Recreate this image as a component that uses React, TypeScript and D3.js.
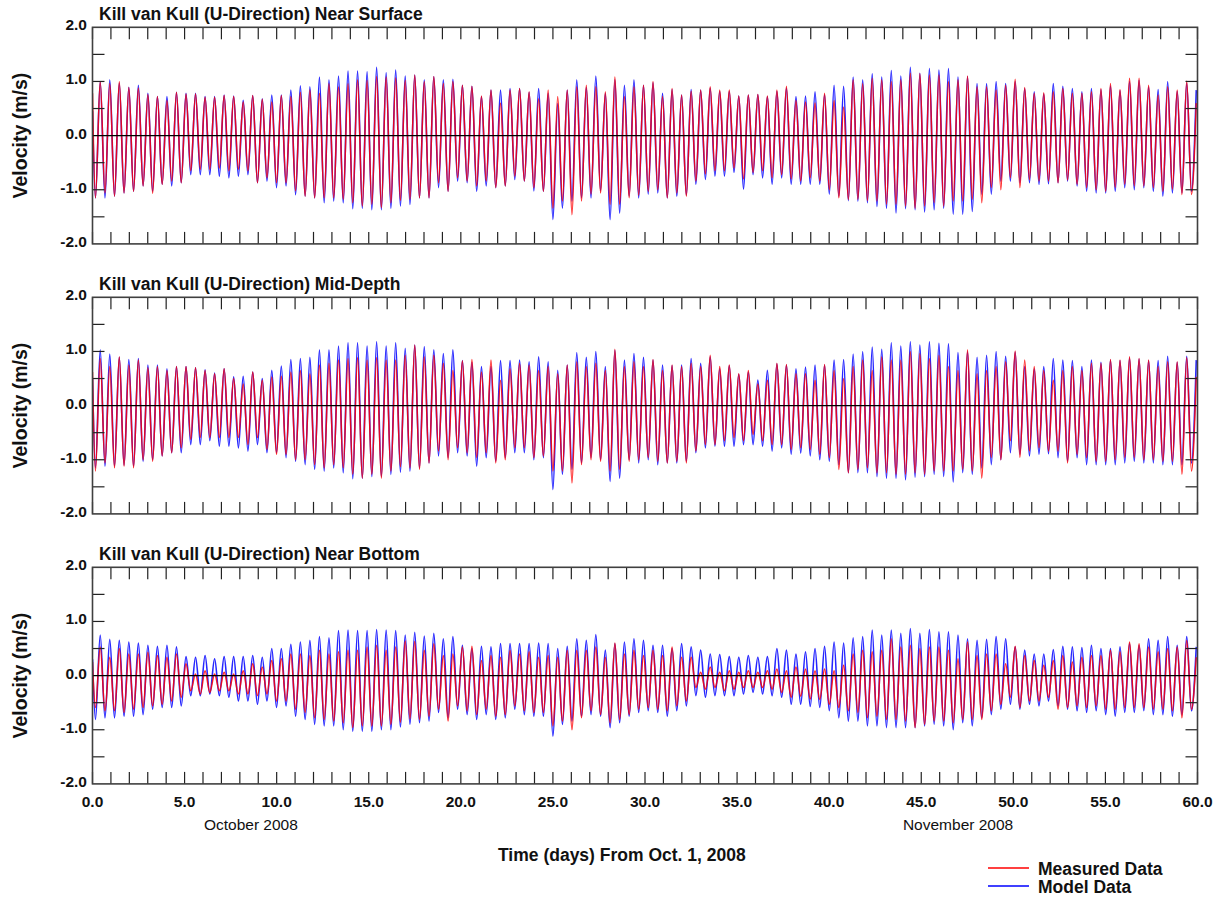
import React from "react";
import * as d3 from "d3";

// Tidal timing of the read extremes (days from Oct. 1, 2008)
const PERIOD = 0.5175;
const FIRST_TROUGH = 0.16;
const FIRST_PEAK = 0.42;

const X_TICK_LABELS = [0, 5, 10, 15, 20, 25, 30, 35, 40, 45, 50, 55, 60];
const Y_TICK_LABELS = [2, 1, 0, -1, -2];
const Y_MINOR = [1.5, 1, 0.5, -0.5, -1, -1.5];
const MONTHS = [{ label: "October 2008", day: 8.6 }, { label: "November 2008", day: 47.0 }];
const TITLES = [
  "Kill van Kull (U-Direction) Near Surface",
  "Kill van Kull (U-Direction) Mid-Depth",
  "Kill van Kull (U-Direction) Near Bottom",
];

// ---- Near Surface ----
const surfaceMeasuredStart = 0.78;
const surfaceModelStart = 0.45;
const surfaceMeasuredPeaks = [1.00,0.96,1.00,0.89,0.88,0.76,0.72,0.65,0.80,0.77,
 0.77,0.71,0.71,0.74,0.72,0.62,0.74,0.67,0.62,0.74,
 0.72,0.80,0.84,0.78,0.96,0.90,0.96,1.03,1.02,1.09,
 1.08,1.07,1.02,1.12,1.00,1.09,0.96,1.00,0.93,0.91,
 0.73,0.84,0.60,0.84,0.87,0.81,0.68,0.84,0.72,0.84,
 0.90,0.93,0.90,0.81,1.08,0.72,0.90,0.93,1.00,0.72,
 0.87,0.75,0.82,0.84,0.90,0.84,0.84,0.73,0.75,0.76,
 0.73,0.84,0.91,0.65,0.62,0.60,0.78,0.65,0.53,1.03,
 0.96,1.06,1.03,1.00,1.03,1.15,1.14,1.12,1.12,1.00,
 1.03,1.10,0.90,0.90,0.84,0.93,1.04,0.89,0.78,0.79,
 0.81,0.87,0.78,0.78,0.81,0.87,0.96,0.85,1.06,1.06,
 0.93,0.75,0.90,0.84,1.01,0.60];
const surfaceModelPeaks = [1.00,1.03,0.97,0.89,0.93,0.78,0.72,0.72,0.80,0.78,
 0.78,0.72,0.72,0.75,0.73,0.65,0.74,0.68,0.75,0.75,
 0.84,0.92,0.90,1.08,1.03,1.10,1.19,1.19,1.18,1.26,
 1.16,1.21,1.10,1.12,1.03,1.09,1.03,1.04,0.93,0.91,
 0.72,0.84,0.84,0.87,0.87,0.80,0.87,0.78,0.59,0.84,
 1.03,0.89,1.10,0.78,1.03,0.93,1.03,0.93,0.98,0.78,
 0.85,0.75,0.85,0.84,0.88,0.82,0.82,0.73,0.75,0.76,
 0.72,0.82,0.88,0.72,0.73,0.81,0.76,0.93,0.91,1.08,
 1.03,1.14,1.08,1.20,1.10,1.26,1.15,1.24,1.21,1.24,
 1.08,1.09,0.96,0.96,1.00,0.96,1.00,0.87,0.81,0.77,
 0.96,0.91,0.87,0.81,0.87,0.85,0.92,0.83,1.00,1.02,
 0.90,0.85,1.00,0.82,0.97,0.84];
const surfaceMeasuredTroughs = [-1.15,-1.06,-1.12,-1.06,-1.03,-0.93,-1.07,-0.90,-0.84,-0.87,
 -0.65,-0.62,-0.62,-0.60,-0.65,-0.62,-0.65,-0.87,-0.78,-0.87,
 -0.87,-1.02,-1.12,-1.15,-1.15,-1.15,-1.18,-1.24,-1.30,-1.27,
 -1.33,-1.24,-1.20,-1.18,-1.15,-1.15,-0.87,-1.03,-0.78,-0.84,
 -0.93,-0.84,-0.96,-0.93,-0.75,-0.84,-0.96,-1.03,-1.34,-1.21,
 -1.46,-1.21,-1.08,-1.06,-1.27,-1.27,-1.15,-1.10,-1.03,-1.00,
 -1.15,-1.06,-1.12,-0.84,-0.71,-0.65,-0.65,-0.60,-0.80,-0.68,
 -0.65,-0.78,-0.72,-0.80,-0.84,-0.78,-0.84,-1.00,-1.15,-1.18,
 -1.18,-1.20,-1.21,-1.27,-1.27,-1.30,-1.34,-1.30,-1.24,-1.30,
 -1.21,-1.21,-1.18,-1.24,-0.96,-1.00,-0.78,-0.96,-0.81,-0.84,
 -0.84,-0.87,-0.82,-0.90,-0.96,-1.00,-1.03,-0.96,-0.90,-0.93,
 -0.93,-0.96,-1.03,-0.99,-1.09,-1.09];
const surfaceModelTroughs = [-1.15,-1.15,-1.12,-1.06,-1.03,-0.93,-1.03,-0.90,-0.93,-0.87,
 -0.72,-0.72,-0.72,-0.75,-0.78,-0.75,-0.72,-0.87,-0.84,-0.96,
 -0.93,-1.09,-1.12,-1.15,-1.24,-1.21,-1.24,-1.35,-1.34,-1.37,
 -1.37,-1.34,-1.30,-1.27,-1.15,-1.15,-0.96,-1.03,-0.84,-0.87,
 -1.03,-0.93,-0.96,-0.93,-0.81,-0.84,-1.02,-1.03,-1.55,-1.34,
 -1.21,-1.15,-1.15,-1.02,-1.55,-1.43,-1.12,-1.15,-1.08,-1.06,
 -1.15,-1.12,-1.10,-0.90,-0.81,-0.75,-0.75,-0.68,-0.99,-0.72,
 -0.78,-0.90,-0.78,-0.90,-0.90,-0.90,-0.90,-1.08,-1.12,-1.20,
 -1.21,-1.24,-1.31,-1.34,-1.43,-1.35,-1.37,-1.41,-1.37,-1.34,
 -1.45,-1.45,-1.40,-1.08,-1.08,-0.84,-0.84,-0.87,-0.87,-0.90,
 -0.89,-0.87,-0.84,-0.93,-1.03,-1.06,-1.06,-1.03,-0.96,-1.00,
 -0.96,-1.03,-1.12,-1.06,-1.06,-1.03];

// ---- Mid-Depth ----
const midMeasuredStart = 0.62;
const midModelStart = 0.5;
const midMeasuredPeaks = [0.87,0.72,0.90,0.75,0.84,0.70,0.72,0.65,0.72,0.72,
 0.70,0.65,0.59,0.68,0.50,0.40,0.62,0.47,0.53,0.54,
 0.62,0.65,0.59,0.75,0.78,0.84,0.87,0.89,0.84,0.89,
 0.84,0.84,0.93,1.12,0.90,0.93,0.78,0.65,0.83,0.85,
 0.62,0.84,0.47,0.68,0.78,0.75,0.65,0.72,0.59,0.75,
 0.81,0.72,0.78,0.65,1.04,0.72,0.81,0.72,0.85,0.65,
 0.75,0.72,0.78,0.72,0.93,0.72,0.75,0.59,0.65,0.40,
 0.47,0.78,0.76,0.59,0.59,0.47,0.76,0.65,0.50,0.72,
 0.84,0.65,0.90,0.84,0.84,1.00,0.96,0.87,0.93,0.72,
 0.65,1.03,0.59,0.65,0.72,0.81,1.01,0.84,0.72,0.65,
 0.47,0.65,0.72,0.65,0.78,0.78,0.85,0.84,0.90,0.87,
 0.84,0.72,0.81,0.81,0.89,0.53];
const midModelPeaks = [1.03,0.95,0.89,0.85,0.87,0.75,0.75,0.68,0.72,0.72,
 0.70,0.66,0.60,0.68,0.53,0.54,0.62,0.50,0.65,0.73,
 0.85,0.87,0.89,1.03,1.03,1.10,1.16,1.16,1.10,1.18,
 1.10,1.16,1.06,1.12,1.09,1.03,0.96,1.03,0.83,0.80,
 0.72,0.72,0.83,0.83,0.84,0.81,0.90,0.81,0.65,0.75,
 0.98,0.89,1.00,0.72,1.02,0.84,0.96,0.89,0.84,0.75,
 0.74,0.75,0.87,0.78,0.90,0.68,0.74,0.58,0.62,0.47,
 0.65,0.77,0.75,0.68,0.71,0.75,0.75,0.84,0.85,0.95,
 1.00,1.08,1.04,1.16,1.10,1.18,1.12,1.18,1.15,1.14,
 0.98,1.00,0.89,0.93,1.00,0.91,0.99,0.72,0.68,0.72,
 0.87,0.84,0.83,0.72,0.84,0.80,0.84,0.83,0.88,0.86,
 0.83,0.83,0.91,0.80,0.91,0.84];
const midMeasuredTroughs = [-1.21,-1.06,-1.15,-1.12,-1.15,-1.00,-1.03,-0.93,-0.87,-0.78,
 -0.62,-0.59,-0.59,-0.59,-0.59,-0.59,-0.72,-0.59,-0.81,-0.90,
 -0.90,-1.00,-1.00,-1.09,-1.15,-1.09,-1.15,-1.27,-1.34,-1.27,
 -1.34,-1.21,-1.13,-1.15,-1.18,-1.06,-0.84,-1.00,-0.78,-0.87,
 -0.96,-0.87,-1.06,-1.00,-0.78,-0.78,-0.96,-0.93,-1.21,-1.21,
 -1.43,-1.09,-1.00,-1.03,-1.21,-1.18,-1.03,-1.00,-0.96,-1.03,
 -1.06,-1.03,-1.06,-0.84,-0.72,-0.72,-0.65,-0.59,-0.65,-0.53,
 -0.65,-0.72,-0.72,-0.81,-0.78,-0.81,-0.90,-0.96,-1.18,-1.24,
 -1.18,-1.15,-1.24,-1.24,-1.27,-1.27,-1.24,-1.27,-1.21,-1.21,
 -1.21,-1.18,-1.21,-1.34,-0.96,-1.00,-0.65,-0.96,-0.84,-0.78,
 -0.84,-0.84,-1.06,-0.90,-0.96,-1.03,-1.03,-1.00,-0.96,-0.96,
 -1.00,-1.00,-1.03,-1.03,-1.27,-1.21];
const midModelTroughs = [-1.15,-1.12,-1.12,-1.10,-1.12,-1.03,-1.00,-0.93,-0.87,-0.87,
 -0.72,-0.72,-0.65,-0.75,-0.75,-0.78,-0.84,-0.72,-0.87,-0.87,
 -0.96,-1.03,-1.09,-1.18,-1.21,-1.15,-1.24,-1.35,-1.34,-1.31,
 -1.31,-1.27,-1.23,-1.21,-1.15,-1.06,-0.93,-0.96,-0.87,-0.93,
 -1.12,-0.96,-1.03,-0.96,-0.87,-0.87,-1.00,-0.96,-1.55,-1.27,
 -1.18,-1.06,-0.96,-1.00,-1.40,-1.34,-1.00,-1.06,-1.00,-1.09,
 -1.06,-1.06,-1.03,-0.87,-0.78,-0.75,-0.75,-0.75,-0.72,-0.72,
 -0.75,-0.84,-0.78,-0.90,-0.88,-0.93,-1.00,-1.03,-1.09,-1.24,
 -1.24,-1.24,-1.31,-1.34,-1.34,-1.37,-1.32,-1.31,-1.27,-1.31,
 -1.41,-1.24,-1.27,-1.15,-1.09,-1.00,-0.87,-0.90,-0.93,-0.90,
 -0.89,-0.96,-1.03,-0.96,-1.09,-1.09,-1.09,-1.09,-1.06,-1.03,
 -1.06,-1.06,-1.09,-1.09,-1.09,-1.06];

// ---- Near Bottom ----
const bottomMeasuredStart = 0.25;
const bottomModelStart = 0.3;
const bottomMeasuredPeaks = [0.53,0.34,0.50,0.40,0.40,0.43,0.37,0.34,0.40,0.22,
 0.03,0.09,0.03,0.06,0.03,0.09,0.22,0.16,0.28,0.31,
 0.40,0.40,0.37,0.47,0.40,0.44,0.47,0.47,0.53,0.56,
 0.47,0.53,0.64,0.63,0.47,0.59,0.37,0.40,0.53,0.54,
 0.28,0.37,0.34,0.47,0.40,0.44,0.34,0.37,0.34,0.47,
 0.47,0.47,0.53,0.34,0.60,0.40,0.47,0.37,0.47,0.37,
 0.53,0.34,0.34,0.06,0.16,0.06,0.09,0.06,0.09,0.06,
 0.09,0.12,0.09,0.16,0.12,0.09,0.12,0.09,0.19,0.40,
 0.47,0.44,0.47,0.68,0.53,0.56,0.50,0.53,0.53,0.47,
 0.31,0.62,0.37,0.40,0.40,0.22,0.54,0.37,0.28,0.19,
 0.28,0.37,0.25,0.34,0.37,0.37,0.47,0.44,0.62,0.59,
 0.53,0.44,0.50,0.53,0.65,0.34];
const bottomModelPeaks = [0.75,0.67,0.65,0.62,0.60,0.56,0.54,0.56,0.53,0.35,
 0.34,0.37,0.31,0.35,0.35,0.35,0.37,0.34,0.50,0.50,
 0.58,0.62,0.65,0.72,0.70,0.83,0.84,0.83,0.83,0.85,
 0.84,0.83,0.75,0.80,0.73,0.78,0.68,0.72,0.56,0.50,
 0.54,0.53,0.59,0.59,0.59,0.59,0.60,0.59,0.50,0.54,
 0.68,0.65,0.76,0.47,0.59,0.62,0.68,0.65,0.56,0.56,
 0.50,0.59,0.53,0.47,0.40,0.39,0.35,0.34,0.37,0.34,
 0.35,0.50,0.47,0.40,0.44,0.50,0.54,0.62,0.60,0.70,
 0.72,0.84,0.75,0.84,0.78,0.87,0.78,0.85,0.81,0.81,
 0.75,0.68,0.65,0.67,0.72,0.68,0.53,0.47,0.40,0.40,
 0.48,0.54,0.53,0.52,0.56,0.50,0.50,0.53,0.59,0.56,
 0.68,0.65,0.72,0.56,0.72,0.53];
const bottomMeasuredTroughs = [-0.59,-0.65,-0.65,-0.68,-0.62,-0.59,-0.56,-0.53,-0.47,-0.40,
 -0.28,-0.34,-0.31,-0.28,-0.28,-0.34,-0.34,-0.37,-0.34,-0.47,
 -0.47,-0.62,-0.68,-0.78,-0.81,-0.84,-0.87,-0.96,-0.93,-0.93,
 -0.93,-0.90,-0.86,-0.80,-0.81,-0.75,-0.62,-0.84,-0.56,-0.65,
 -0.72,-0.62,-0.75,-0.72,-0.56,-0.65,-0.68,-0.68,-0.93,-0.84,
 -1.00,-0.78,-0.65,-0.72,-0.87,-0.81,-0.72,-0.62,-0.59,-0.62,
 -0.65,-0.56,-0.47,-0.22,-0.25,-0.22,-0.28,-0.25,-0.22,-0.22,
 -0.22,-0.25,-0.31,-0.40,-0.38,-0.43,-0.44,-0.53,-0.59,-0.65,
 -0.68,-0.78,-0.75,-0.81,-0.81,-0.84,-0.96,-0.90,-0.84,-0.84,
 -0.87,-0.81,-0.81,-0.81,-0.65,-0.53,-0.40,-0.59,-0.47,-0.47,
 -0.40,-0.62,-0.59,-0.56,-0.59,-0.56,-0.62,-0.62,-0.59,-0.59,
 -0.59,-0.62,-0.62,-0.65,-0.78,-0.62];
const bottomModelTroughs = [-0.81,-0.78,-0.78,-0.75,-0.75,-0.72,-0.62,-0.59,-0.59,-0.56,
 -0.37,-0.37,-0.34,-0.37,-0.40,-0.47,-0.47,-0.53,-0.47,-0.59,
 -0.56,-0.75,-0.81,-0.90,-0.93,-0.93,-1.00,-1.03,-1.03,-1.03,
 -1.00,-1.00,-0.95,-0.90,-0.87,-0.84,-0.68,-0.78,-0.62,-0.72,
 -0.81,-0.72,-0.81,-0.78,-0.62,-0.72,-0.75,-0.75,-1.12,-0.90,
 -0.84,-0.75,-0.72,-0.75,-0.96,-0.87,-0.75,-0.68,-0.65,-0.68,
 -0.75,-0.65,-0.56,-0.37,-0.40,-0.37,-0.37,-0.37,-0.34,-0.31,
 -0.34,-0.37,-0.40,-0.53,-0.53,-0.57,-0.59,-0.65,-0.78,-0.84,
 -0.84,-0.93,-0.93,-0.96,-0.96,-0.96,-0.96,-0.93,-0.90,-0.93,
 -1.00,-0.87,-0.93,-0.78,-0.72,-0.62,-0.53,-0.62,-0.53,-0.56,
 -0.47,-0.56,-0.62,-0.65,-0.68,-0.65,-0.72,-0.75,-0.68,-0.68,
 -0.65,-0.72,-0.72,-0.75,-0.72,-0.65];

type Pt = { t: number; v: number };

function buildSeries(start: number, troughs: number[], peaks: number[]): Pt[] {
  const pts: Pt[] = [{ t: 0, v: start }];
  for (let i = 0; i < peaks.length; i++) {
    pts.push({ t: FIRST_TROUGH + i * PERIOD, v: troughs[i] });
    pts.push({ t: FIRST_PEAK + i * PERIOD, v: peaks[i] });
  }
  return pts;
}

const PANEL_DATA = [
  {
    measured: buildSeries(surfaceMeasuredStart, surfaceMeasuredTroughs, surfaceMeasuredPeaks),
    model: buildSeries(surfaceModelStart, surfaceModelTroughs, surfaceModelPeaks),
  },
  {
    measured: buildSeries(midMeasuredStart, midMeasuredTroughs, midMeasuredPeaks),
    model: buildSeries(midModelStart, midModelTroughs, midModelPeaks),
  },
  {
    measured: buildSeries(bottomMeasuredStart, bottomMeasuredTroughs, bottomMeasuredPeaks),
    model: buildSeries(bottomModelStart, bottomModelTroughs, bottomModelPeaks),
  },
];

const W = 1225;
const H = 899;
const LEFT = 92.5;
const RIGHT = 1197.5;
const PANEL_TOP0 = 27.3;
const PANEL_STEP = 270;
const PANEL_H = 216.6;
const TICK = 12;
const FONT = "'Liberation Sans', Arial, Helvetica, sans-serif";
const RED = "#ff0000";
const BLUE = "#0000ff";
const FRAME = "#404040";

const x = d3.scaleLinear().domain([0, 60]).range([LEFT, RIGHT]);
const dayTicks = d3.range(0, 61);

function Panel({ idx }: { idx: number }) {
  const top = PANEL_TOP0 + idx * PANEL_STEP;
  const bottom = top + PANEL_H;
  const y = d3.scaleLinear().domain([-2, 2]).range([bottom, top]);
  const line = d3
    .line<Pt>()
    .x((d) => x(d.t))
    .y((d) => y(d.v))
    .curve(d3.curveMonotoneX);
  const data = PANEL_DATA[idx];
  const clipId = `clip${idx}`;
  return (
    <g>
      <defs>
        <clipPath id={clipId}>
          <rect x={LEFT} y={top} width={RIGHT - LEFT} height={PANEL_H} />
        </clipPath>
      </defs>
      <text x={99} y={top - 7} fontFamily={FONT} fontWeight="bold" fontSize={17.5} fill="#111">
        {TITLES[idx]}
      </text>
      <g clipPath={`url(#${clipId})`}>
        <path d={line(data.model) || ""} fill="none" stroke={BLUE} strokeWidth={1.6} strokeOpacity={0.85} />
        <path d={line(data.measured) || ""} fill="none" stroke={RED} strokeWidth={1.5} strokeOpacity={0.85} />
      </g>
      <line x1={LEFT} x2={RIGHT} y1={y(0)} y2={y(0)} stroke="#000" strokeWidth={1.3} />
      {dayTicks.map((d) => (
        <g key={d}>
          <line x1={x(d)} x2={x(d)} y1={top} y2={top + TICK} stroke="#222" strokeWidth={1.2} />
          <line x1={x(d)} x2={x(d)} y1={bottom} y2={bottom - TICK} stroke="#222" strokeWidth={1.2} />
        </g>
      ))}
      {Y_MINOR.map((v) => (
        <g key={v}>
          <line x1={LEFT} x2={LEFT + TICK} y1={y(v)} y2={y(v)} stroke="#222" strokeWidth={1.2} />
          <line x1={RIGHT} x2={RIGHT - TICK} y1={y(v)} y2={y(v)} stroke="#222" strokeWidth={1.2} />
        </g>
      ))}
      <rect x={LEFT} y={top} width={RIGHT - LEFT} height={PANEL_H} fill="none" stroke={FRAME} strokeWidth={1.6} />
      {Y_TICK_LABELS.map((v) => (
        <text
          key={v}
          x={87}
          y={y(v) + 3}
          textAnchor="end"
          fontFamily={FONT}
          fontWeight="bold"
          fontSize={15.5}
          fill="#111"
        >
          {v.toFixed(1)}
        </text>
      ))}
      <text
        transform={`translate(27,${(top + bottom) / 2}) rotate(-90)`}
        textAnchor="middle"
        fontFamily={FONT}
        fontWeight="bold"
        fontSize={19.5}
        fill="#111"
      >
        Velocity (m/s)
      </text>
    </g>
  );
}

export default function App() {
  const bottom3 = PANEL_TOP0 + 2 * PANEL_STEP + PANEL_H;
  return (
    <svg
      width={W}
      height={H}
      viewBox={`0 0 ${W} ${H}`}
      style={{ position: "absolute", left: 0, top: 0, background: "#fff" }}
    >
      <rect x={0} y={0} width={W} height={H} fill="#fff" />
      {[0, 1, 2].map((i) => (
        <Panel key={i} idx={i} />
      ))}
      {X_TICK_LABELS.map((d) => (
        <text
          key={d}
          x={x(d)}
          y={bottom3 + 23}
          textAnchor="middle"
          fontFamily={FONT}
          fontWeight="bold"
          fontSize={15.5}
          fill="#111"
        >
          {d.toFixed(1)}
        </text>
      ))}
      {MONTHS.map((m) => (
        <text
          key={m.label}
          x={x(m.day)}
          y={bottom3 + 46}
          textAnchor="middle"
          fontFamily={FONT}
          fontSize={15.5}
          fill="#111"
        >
          {m.label}
        </text>
      ))}
      <text x={498} y={861} fontFamily={FONT} fontWeight="bold" fontSize={17.5} fill="#111">
        Time (days) From Oct. 1, 2008
      </text>
      <line x1={988} x2={1029} y1={868} y2={868} stroke={RED} strokeWidth={1.3} />
      <text x={1038} y={875} fontFamily={FONT} fontWeight="bold" fontSize={17.5} fill="#111">
        Measured Data
      </text>
      <line x1={988} x2={1029} y1={886} y2={886} stroke={BLUE} strokeWidth={1.3} />
      <text x={1038} y={893} fontFamily={FONT} fontWeight="bold" fontSize={17.5} fill="#111">
        Model Data
      </text>
    </svg>
  );
}
